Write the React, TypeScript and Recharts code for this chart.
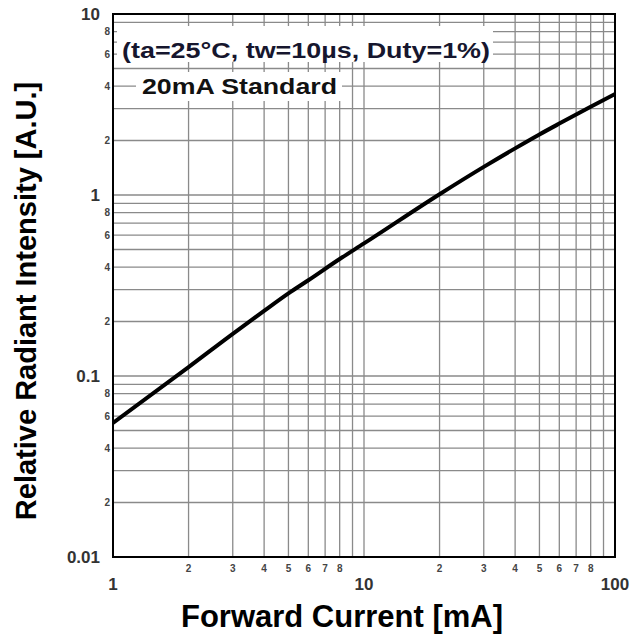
import React from "react";
import {
  LineChart,
  Line,
  XAxis,
  YAxis,
  CartesianGrid,
} from "recharts";

// forward current (mA) vs relative radiant intensity
const currents = [1, 2, 3, 4, 5, 6, 8, 10, 20, 30, 40, 50, 60, 80, 100];
const intensity = [
  0.055, 0.112, 0.171, 0.229, 0.286, 0.338, 0.443, 0.54, 1.01, 1.43, 1.81,
  2.16, 2.48, 3.07, 3.61,
];

const xTicks = [
  1, 2, 3, 4, 5, 6, 7, 8, 9, 10, 20, 30, 40, 50, 60, 70, 80, 90, 100,
];
const xTickLabels = [
  "1", "2", "3", "4", "5", "6", "7", "8", "", "10", "2", "3", "4", "5", "6",
  "7", "8", "", "100",
];
const xMajor = [1, 10, 100];

const yTicks = [
  0.01, 0.02, 0.03, 0.04, 0.05, 0.06, 0.07, 0.08, 0.09, 0.1, 0.2, 0.3, 0.4,
  0.5, 0.6, 0.7, 0.8, 0.9, 1, 2, 3, 4, 5, 6, 7, 8, 9, 10,
];
const yTickLabels = [
  "0.01", "2", "", "4", "", "6", "", "8", "", "0.1", "2", "", "4", "", "6",
  "", "8", "", "1", "2", "", "4", "", "6", "", "8", "", "10",
];
const yMajor = [0.01, 0.1, 1, 10];

const xTitle = "Forward Current [mA]";
const yTitle = "Relative Radiant Intensity [A.U.]";
const noteConditions = "(ta=25°C, tw=10µs, Duty=1%)";
const noteStandard = "20mA Standard";

const data = currents.map((c, i) => ({ current: c, intensity: intensity[i] }));

const W = 631;
const H = 635;
const FONT = "'Liberation Sans', Arial, sans-serif";

function XTick(props: any) {
  const { x, y, payload } = props;
  const v = payload.value;
  const label = xTickLabels[xTicks.indexOf(v)];
  if (!label) return null;
  if (xMajor.includes(v)) {
    return (
      <text x={x} y={y + 33} textAnchor="middle" fontFamily={FONT}
        fontWeight="bold" fontSize={17} fill="#333">
        {label}
      </text>
    );
  }
  return (
    <text x={x} y={y + 15} textAnchor="middle" fontFamily={FONT}
      fontWeight="bold" fontSize={10} fill="#444">
      {label}
    </text>
  );
}

function YTick(props: any) {
  const { x, y, payload } = props;
  const v = payload.value;
  const label = yTickLabels[yTicks.indexOf(v)];
  if (!label) return null;
  if (yMajor.includes(v)) {
    return (
      <text x={x - 13} y={y} dy="0.36em" textAnchor="end" fontFamily={FONT}
        fontWeight="bold" fontSize={17} fill="#333">
        {label}
      </text>
    );
  }
  return (
    <text x={x - 3} y={y} dy="0.36em" textAnchor="end" fontFamily={FONT}
      fontWeight="bold" fontSize={10} fill="#444">
      {label}
    </text>
  );
}

export default function App() {
  return (
    <div style={{ position: "absolute", left: 0, top: 0, width: W, height: H, background: "#fff" }}>
      <LineChart
        width={W}
        height={H}
        data={data}
        margin={{ top: 14, right: 16, bottom: 0, left: 0 }}
      >
        <CartesianGrid stroke="#8a8a8a" strokeWidth={1.3} />
        <XAxis
          dataKey="current"
          type="number"
          scale="log"
          domain={[1, 100]}
          ticks={xTicks}
          interval={0}
          height={78}
          tickSize={0}
          tickMargin={0}
          tickLine={false}
          axisLine={false}
          tick={<XTick />}
          allowDataOverflow
        />
        <YAxis
          type="number"
          scale="log"
          domain={[0.01, 10]}
          ticks={yTicks}
          interval={0}
          width={113}
          tickSize={0}
          tickMargin={0}
          tickLine={false}
          axisLine={false}
          tick={<YTick />}
          allowDataOverflow
        />
        <Line
          type="monotone"
          dataKey="intensity"
          stroke="#000"
          strokeWidth={4}
          dot={false}
          isAnimationActive={false}
        />
      </LineChart>
      <svg
        width={W}
        height={H}
        style={{ position: "absolute", left: 0, top: 0, pointerEvents: "none" }}
      >
        <rect x={113} y={14} width={502} height={543} fill="none" stroke="#000" strokeWidth={2} />
        <rect x={117} y={26} width={376} height={36} fill="#fff" />
        <rect x={136} y={72} width={206} height={29} fill="#fff" />
        <text x={122} y={58} fontFamily={FONT} fontWeight="bold" fontSize={22}
          fill="#16162e" textLength={368} lengthAdjust="spacingAndGlyphs">
          {noteConditions}
        </text>
        <text x={142} y={94} fontFamily={FONT} fontWeight="bold" fontSize={22}
          fill="#111" textLength={195} lengthAdjust="spacingAndGlyphs">
          {noteStandard}
        </text>
        <text x={342} y={627} textAnchor="middle" fontFamily={FONT}
          fontWeight="bold" fontSize={31} fill="#000">
          {xTitle}
        </text>
        <text transform="translate(36,301) rotate(-90)" textAnchor="middle"
          fontFamily={FONT} fontWeight="bold" fontSize={29} fill="#000">
          {yTitle}
        </text>
      </svg>
    </div>
  );
}
